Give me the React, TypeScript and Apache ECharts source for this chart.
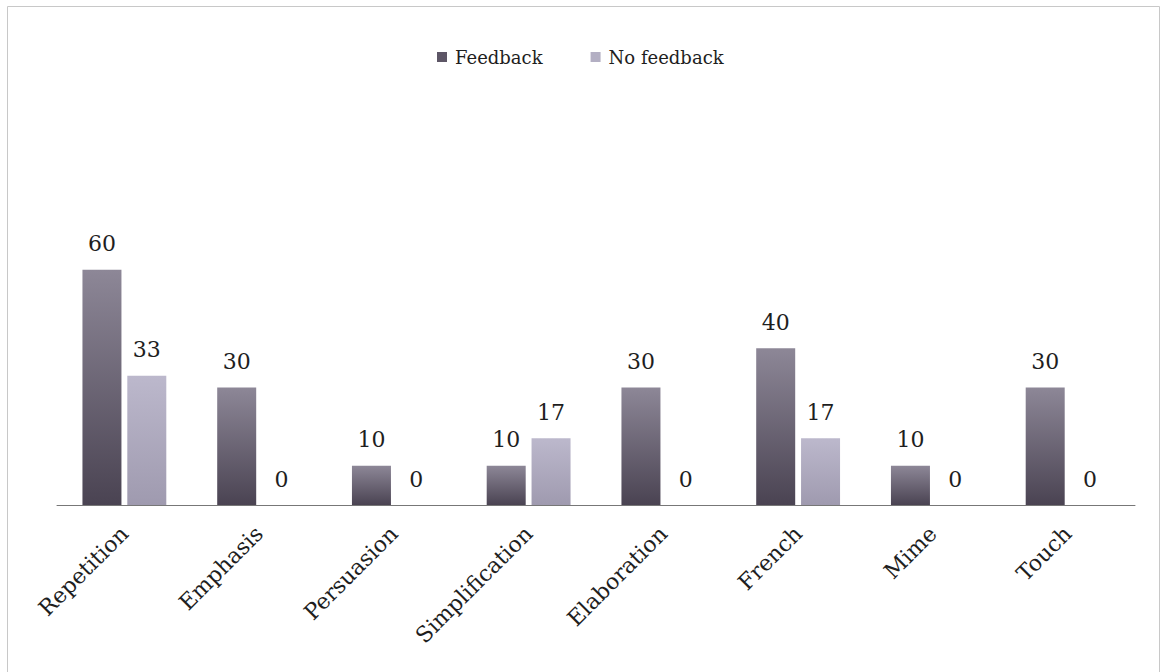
import React, { useEffect, useRef } from "react";
import * as echarts from "echarts";

const categories = ["Repetition", "Emphasis", "Persuasion", "Simplification", "Elaboration", "French", "Mime", "Touch"];
const feedback = [60, 30, 10, 10, 30, 40, 10, 30];
const noFeedback = [33, 0, 0, 17, 0, 17, 0, 0];
const seriesNames = ["Feedback", "No feedback"];

const FONT = "'DejaVu Serif', 'Liberation Serif', serif";

export default function App() {
  const ref = useRef<HTMLDivElement>(null);
  useEffect(() => {
    if (!ref.current) return;
    const chart = echarts.init(ref.current, undefined, { renderer: "svg" });
    const darkGrad = new echarts.graphic.LinearGradient(0, 0, 0, 1, [
      { offset: 0, color: "#8d8797" },
      { offset: 1, color: "#4a4352" },
    ]);
    const lightGrad = new echarts.graphic.LinearGradient(0, 0, 0, 1, [
      { offset: 0, color: "#bcb8cc" },
      { offset: 1, color: "#9f9aaf" },
    ]);
    const valueLabel = { show: true, position: "top", distance: 15, fontFamily: FONT, fontSize: 22, color: "#1e1e1e" };
    chart.setOption({
      animation: false,
      graphic: [
        {
          type: "rect",
          shape: { x: 7.5, y: 6.5, width: 1152, height: 700 },
          style: { fill: "none", stroke: "#c8c8c8", lineWidth: 1 },
          silent: true,
        },
      ],
      legend: {
        data: [
          { name: seriesNames[0], itemStyle: { color: "#5d5666" } },
          { name: seriesNames[1], itemStyle: { color: "#b3afc3" } },
        ],
        left: 432,
        top: 43,
        itemWidth: 10,
        itemHeight: 10,
        itemGap: 48,
        icon: "rect",
        textStyle: { fontFamily: FONT, fontSize: 18, color: "#1e1e1e", padding: [0, 0, 0, 3] },
      },
      grid: { left: 57, right: 28, top: 230.6, bottom: 167, containLabel: false },
      xAxis: {
        type: "category",
        data: categories,
        axisLine: { lineStyle: { color: "#777", width: 1 } },
        axisTick: { show: false },
        axisLabel: {
          rotate: 45,
          interval: 0,
          fontFamily: FONT,
          fontSize: 22,
          color: "#1e1e1e",
          margin: 25,
        },
      },
      yAxis: {
        type: "value",
        min: 0,
        max: 70,
        show: false,
        splitLine: { show: false },
      },
      series: [
        {
          name: seriesNames[0],
          type: "bar",
          data: feedback,
          barWidth: 39,
          barGap: "15%",
          itemStyle: { color: darkGrad },
          label: valueLabel,
        },
        {
          name: seriesNames[1],
          type: "bar",
          data: noFeedback,
          barWidth: 39,
          itemStyle: { color: lightGrad },
          label: valueLabel,
        },
      ],
    });
    return () => chart.dispose();
  }, []);
  return <div ref={ref} style={{ position: "fixed", left: 0, top: 0, width: 1163, height: 672, background: "#fff" }} />;
}
